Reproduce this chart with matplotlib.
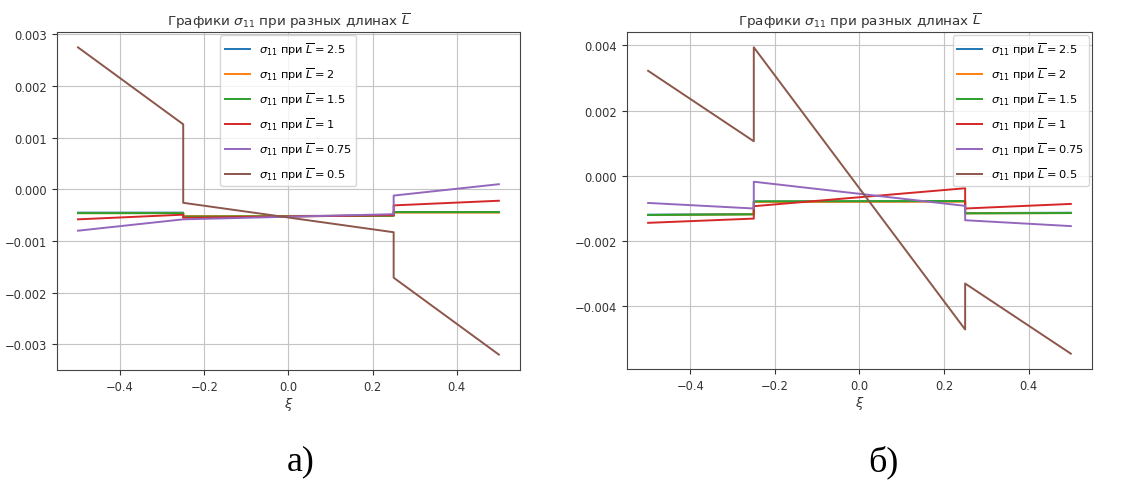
import matplotlib.pyplot as plt

# xi breakpoints: each series is piecewise linear with jumps at -0.25 and 0.25
xi = [-0.5, -0.25, -0.25, 0.25, 0.25, 0.5]
lengths = ["2.5", "2", "1.5", "1", "0.75", "0.5"]
colors = ["#1f77b4", "#ff7f0e", "#2ca02c", "#d62728", "#9467bd", "#8c564b"]

# panel a)
sigma_a_25 = [-0.00045, -0.00045, -0.00052, -0.00051, -0.00044, -0.00044]
sigma_a_2 = [-0.00046, -0.00046, -0.00052, -0.00051, -0.00045, -0.00045]
sigma_a_15 = [-0.00046, -0.00046, -0.00053, -0.00051, -0.00044, -0.00044]
sigma_a_1 = [-0.00058, -0.00049, -0.00055, -0.00050, -0.00031, -0.00022]
sigma_a_075 = [-0.00080, -0.00058, -0.00058, -0.00048, -0.00012, 0.00010]
sigma_a_05 = [0.00275, 0.00126, -0.00026, -0.00083, -0.00171, -0.00320]

# panel б)
sigma_b_25 = [-0.00119, -0.00117, -0.00079, -0.00078, -0.00114, -0.00113]
sigma_b_2 = [-0.00120, -0.00118, -0.00080, -0.00079, -0.00115, -0.00114]
sigma_b_15 = [-0.00120, -0.00118, -0.00078, -0.00077, -0.00115, -0.00114]
sigma_b_1 = [-0.00144, -0.00131, -0.00093, -0.00038, -0.00100, -0.00086]
sigma_b_075 = [-0.00083, -0.00100, -0.00018, -0.00092, -0.00136, -0.00154]
sigma_b_05 = [0.00322, 0.00106, 0.00394, -0.00471, -0.00330, -0.00545]

series_a = [sigma_a_25, sigma_a_2, sigma_a_15, sigma_a_1, sigma_a_075, sigma_a_05]
series_b = [sigma_b_25, sigma_b_2, sigma_b_15, sigma_b_1, sigma_b_075, sigma_b_05]

fig = plt.figure(figsize=(11.21, 4.81), dpi=100)
ax_a = fig.add_axes([0.0508, 0.2287, 0.413, 0.7027])
ax_b = fig.add_axes([0.5593, 0.2308, 0.4148, 0.7006])


def draw_panel(ax, series, legend_loc):
    for vals, L, c in zip(series, lengths, colors):
        ax.plot(xi, vals, color=c, lw=1.4,
                label=f"$\\sigma_{{11}}$ при $\\overline{{L}} = {L}$")
    ax.grid(True, color="#c4c4c4", lw=0.8)
    ax.set_title("Графики $\\sigma_{11}$ при разных длинах $\\overline{L}$",
                 fontsize=9.7, color="#333333", pad=5)
    ax.set_xlabel("$\\xi$", fontsize=9.5, color="#333333", labelpad=2)
    ax.tick_params(labelsize=8.3, colors="#333333")
    for s in ax.spines.values():
        s.set_color("#444444")
    ax.legend(loc=legend_loc, fontsize=8.2, labelspacing=0.72, handlelength=2.2,
              borderaxespad=0.3)


draw_panel(ax_a, series_a, "upper center")
draw_panel(ax_b, series_b, "upper right")

fig.text(301 / 1121, 1 - 462 / 481, "а)", ha="center", va="center",
         fontsize=26, family="Liberation Serif")
fig.text(883 / 1121, 1 - 462 / 481, "б)", ha="center", va="center",
         fontsize=26, family="Liberation Serif")

fig.savefig("out.png", dpi=100)
